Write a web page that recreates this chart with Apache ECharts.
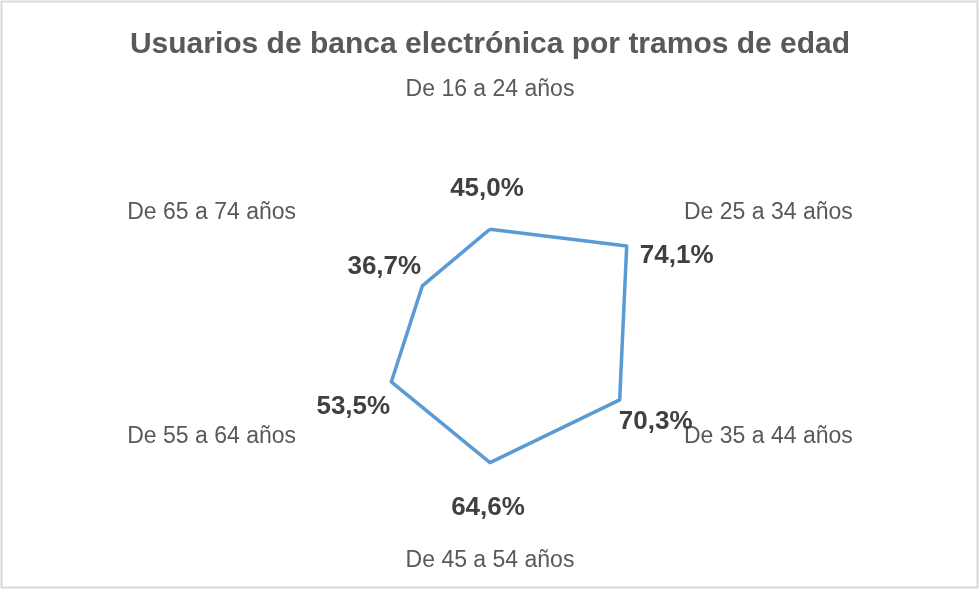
<!DOCTYPE html>
<html>
<head>
<meta charset="utf-8">
<script src="https://cdn.jsdelivr.net/npm/echarts@6/dist/echarts.min.js"></script>
<style>
html,body{margin:0;padding:0;background:#fff;}
#c{width:980px;height:591px;}
</style>
</head>
<body>
<div id="c"></div>
<script>
// Data (Excel order, clockwise from top)
var categories = ['De 16 a 24 años', 'De 25 a 34 años', 'De 35 a 44 años', 'De 45 a 54 años', 'De 55 a 64 años', 'De 65 a 74 años'];
var values = [45.0, 74.1, 70.3, 64.6, 53.5, 36.7];
var titleText = 'Usuarios de banca electrónica por tramos de edad';

// ECharts radar places indicators counter-clockwise, so reorder
function reorder(arr) { return [arr[0]].concat(arr.slice(1).reverse()); }
var radarCats = reorder(categories);
var radarVals = reorder(values);

function fmt(v) { return v.toFixed(1).replace('.', ',') + '%'; }

// label offsets relative to each vertex (Excel order)
var labelOffsets = [[-3, -40], [50, 10], [36, 22], [-2, 45], [-38, 25], [-38, -19]];

var series = [{
  type: 'radar',
  symbol: 'none',
  lineStyle: { color: '#5B9BD5', width: 3.5 },
  itemStyle: { color: '#5B9BD5' },
  data: [{ value: radarVals }],
  silent: true,
  z: 2
}];

values.forEach(function (val, k) {
  series.push({
    type: 'radar',
    symbol: 'circle',
    symbolSize: 1,
    itemStyle: { color: 'transparent' },
    lineStyle: { opacity: 0, width: 0 },
    silent: true,
    z: 3,
    label: {
      show: true,
      position: 'inside',
      offset: labelOffsets[k],
      color: '#404040',
      fontSize: 26,
      fontWeight: 'bold',
      fontFamily: 'Liberation Sans, Arial, sans-serif',
      formatter: function (p) { return p.value === val ? fmt(p.value) : ''; }
    },
    data: [{ value: radarVals }]
  });
});

var chart = echarts.init(document.getElementById('c'));
chart.setOption({
  animation: false,
  backgroundColor: '#fff',
  title: {
    text: titleText,
    left: 'center',
    top: 25,
    textStyle: { color: '#595959', fontSize: 30, fontWeight: 'bold', fontFamily: 'Liberation Sans, Arial, sans-serif' }
  },
  graphic: [{
    type: 'rect',
    shape: { x: 1.5, y: 1.5, width: 976, height: 586 },
    style: { fill: 'none', stroke: '#d9d9d9', lineWidth: 2 },
    silent: true
  }],
  radar: {
    center: [490, 325],
    radius: 213,
    startAngle: 90,
    shape: 'polygon',
    nameGap: 11,
    axisName: {
      color: '#595959',
      fontSize: 23,
      fontFamily: 'Liberation Sans, Arial, sans-serif'
    },
    indicator: radarCats.map(function (c) { return { name: c, min: 0, max: 100 }; }),
    splitNumber: 5,
    axisLine: { show: false },
    axisTick: { show: false },
    axisLabel: { show: false },
    splitLine: { show: false },
    splitArea: { show: false }
  },
  series: series
});
</script>
</body>
</html>
